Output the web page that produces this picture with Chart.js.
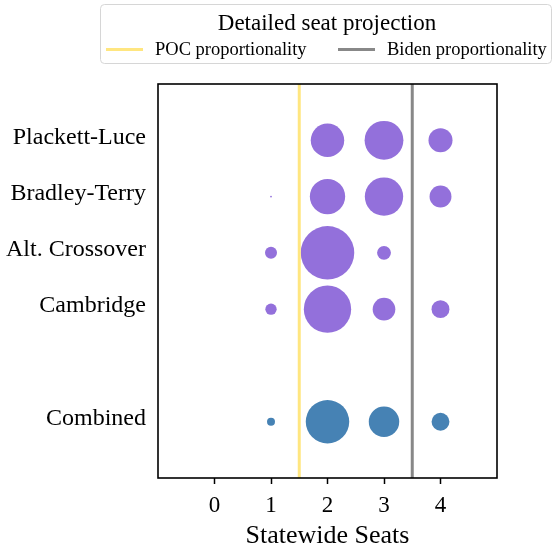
<!DOCTYPE html>
<html>
<head>
<meta charset="utf-8">
<script src="https://cdn.jsdelivr.net/npm/chart.js@4/dist/chart.umd.min.js"></script>
<style>
  html, body { margin: 0; padding: 0; background: #fff; }
  #wrap { width: 556px; height: 560px; position: relative; }
</style>
</head>
<body>
<div id="wrap"><canvas id="chart"></canvas></div>
<script>
// methods (rows, top to bottom) and their row positions on the y axis
var methods = ['Plackett-Luce', 'Bradley-Terry', 'Alt. Crossover', 'Cambridge', 'Combined'];
var rowPos  = [0, 1, 2, 3, 5];

// statewide seats on the x axis
var seatTicks = [0, 1, 2, 3, 4];

// probability (%) of each seat outcome, per method; null = not drawn
var seats         = [1, 2, 3, 4];
var plackettLuce  = [null, 35, 47, 18];
var bradleyTerry  = [0.1, 39, 46, 15];
var altCrossover  = [4.5, 89.5, 6, null];
var cambridge     = [4, 70, 16, 10];
var combined      = [2, 59, 29, 10];

// proportionality reference lines
var pocSeats   = 1.5;
var bidenSeats = 3.5;

var SERIF = '"Liberation Serif", "DejaVu Serif", serif';
var PURPLE = '#9370db';
var BLUE = '#4682b4';
var YELLOW = '#ffe680';
var GREY = '#888888';

function toPoints(vals, row) {
  var out = [];
  vals.forEach(function (p, i) {
    if (p === null) return;
    out.push({ x: seats[i], y: rowPos[row], p: p });
  });
  return out;
}

var modelPoints = []
  .concat(toPoints(plackettLuce, 0))
  .concat(toPoints(bradleyTerry, 1))
  .concat(toPoints(altCrossover, 2))
  .concat(toPoints(cambridge, 3));
var combinedPoints = toPoints(combined, 4);

// bubble area proportional to probability
function bubbleR(ctx) {
  var d = ctx.raw;
  return d ? Math.sqrt(d.p * 8) : 0;
}

var frame = {
  id: 'frame',
  afterDatasetsDraw: function (chart) {
    var a = chart.chartArea, c = chart.ctx;
    c.save();
    c.strokeStyle = '#000';
    c.lineWidth = 1.6;
    c.strokeRect(a.left, a.top, a.right - a.left, a.bottom - a.top);
    c.restore();
  }
};

var legendBox = {
  id: 'legendBox',
  afterDraw: function (chart) {
    var c = chart.ctx;
    c.save();
    // box
    var x = 100.5, y = 4.5, w = 451, h = 59, r = 4;
    c.beginPath();
    c.moveTo(x + r, y);
    c.arcTo(x + w, y, x + w, y + h, r);
    c.arcTo(x + w, y + h, x, y + h, r);
    c.arcTo(x, y + h, x, y, r);
    c.arcTo(x, y, x + w, y, r);
    c.closePath();
    c.fillStyle = 'rgba(255,255,255,0.8)';
    c.fill();
    c.strokeStyle = '#d6d6d6';
    c.lineWidth = 1;
    c.stroke();

    c.fillStyle = '#000';
    c.textBaseline = 'alphabetic';
    c.textAlign = 'center';
    c.font = '23px ' + SERIF;
    c.fillText('Detailed seat projection', 327, 30);

    var items = chart.data.datasets.filter(function (d) { return d.type === 'line'; });
    var starts = [106, 338];
    c.textAlign = 'left';
    c.font = '18.5px ' + SERIF;
    items.forEach(function (d, i) {
      var sx = starts[i];
      c.strokeStyle = d.borderColor;
      c.lineWidth = 3;
      c.beginPath();
      c.moveTo(sx, 49.5);
      c.lineTo(sx + 37, 49.5);
      c.stroke();
      c.fillStyle = '#000';
      c.fillText(d.label, sx + 49, 55);
    });
    c.restore();
  }
};

new Chart(document.getElementById('chart'), {
  type: 'bubble',
  data: {
    datasets: [
      {
        type: 'line',
        label: 'POC proportionality',
        data: [{ x: pocSeats, y: -1 }, { x: pocSeats, y: 6 }],
        borderColor: YELLOW,
        borderWidth: 3,
        pointRadius: 0,
        order: 1
      },
      {
        type: 'line',
        label: 'Biden proportionality',
        data: [{ x: bidenSeats, y: -1 }, { x: bidenSeats, y: 6 }],
        borderColor: GREY,
        borderWidth: 3,
        pointRadius: 0,
        order: 1
      },
      {
        label: 'Models',
        data: modelPoints,
        backgroundColor: PURPLE,
        borderWidth: 0,
        radius: bubbleR,
        order: 2
      },
      {
        label: 'Combined',
        data: combinedPoints,
        backgroundColor: BLUE,
        borderWidth: 0,
        radius: bubbleR,
        order: 2
      }
    ]
  },
  options: {
    responsive: true,
    maintainAspectRatio: false,
    animation: false,
    layout: { padding: { top: 84, right: 59, left: 0, bottom: 0 } },
    plugins: { legend: { display: false }, tooltip: { enabled: false } },
    scales: {
      x: {
        type: 'linear',
        min: -1,
        max: 5,
        afterBuildTicks: function (s) {
          s.ticks = seatTicks.map(function (v) { return { value: v }; });
        },
        afterFit: function (s) { s.height = 82; },
        grid: { drawOnChartArea: false, drawTicks: true, tickLength: 6, tickWidth: 1.5, tickColor: '#000' },
        border: { display: false },
        ticks: { color: '#000', font: { family: SERIF, size: 23 }, padding: 8, maxRotation: 0 },
        title: {
          display: true,
          text: 'Statewide Seats',
          color: '#000',
          font: { family: SERIF, size: 26 },
          padding: { top: 0, bottom: 8 }
        }
      },
      y: {
        type: 'linear',
        reverse: true,
        min: -1,
        max: 6,
        afterBuildTicks: function (s) {
          s.ticks = rowPos.map(function (v) { return { value: v }; });
        },
        afterFit: function (s) { s.width = 158; },
        grid: { display: false, drawTicks: false },
        border: { display: false },
        ticks: {
          color: '#000',
          font: { family: SERIF, size: 24 },
          padding: 12,
          labelOffset: -3,
          callback: function (v) {
            var i = rowPos.indexOf(v);
            return i >= 0 ? methods[i] : '';
          }
        }
      }
    }
  },
  plugins: [frame, legendBox]
});
</script>
</body>
</html>
